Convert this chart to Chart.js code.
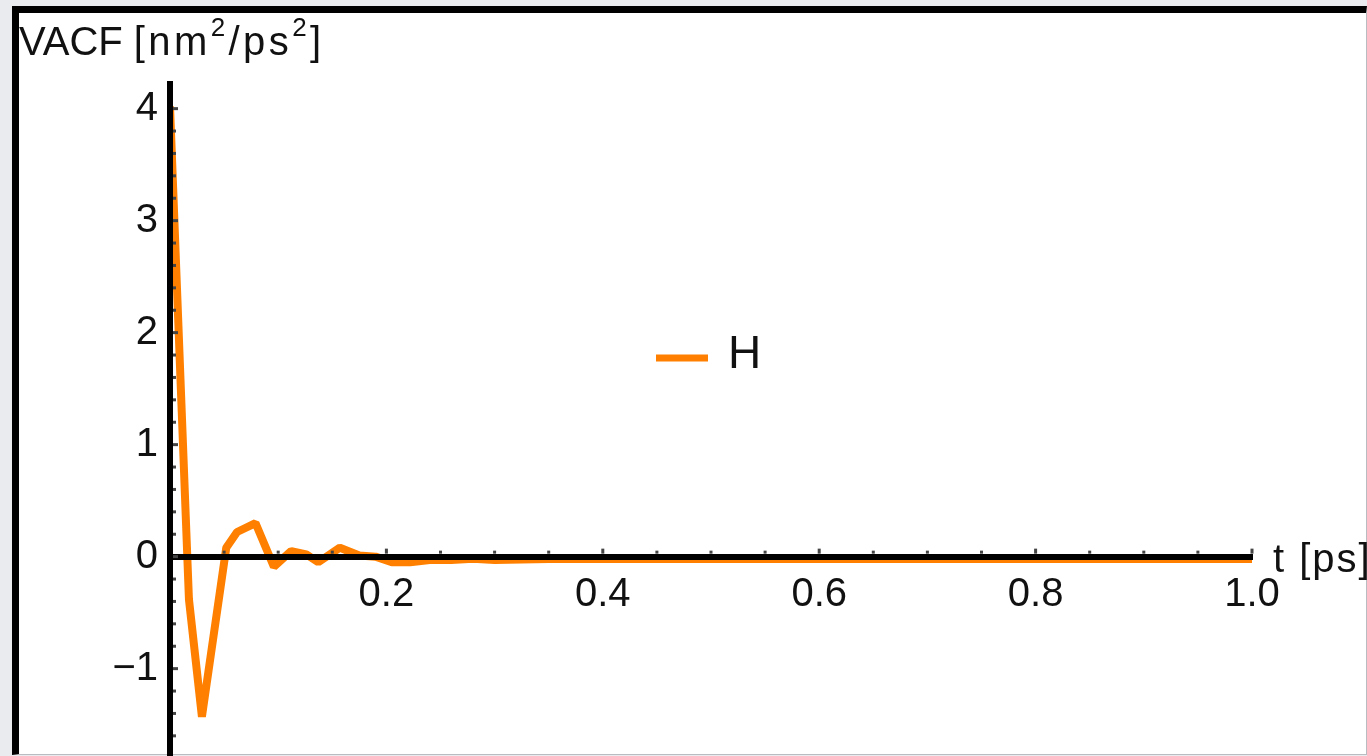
<!DOCTYPE html>
<html><head><meta charset="utf-8">
<script src="https://cdn.jsdelivr.net/npm/chart.js@4.4.1/dist/chart.umd.min.js"></script>
<style>
html,body{margin:0;padding:0;width:1367px;height:756px;overflow:hidden;background:#e9ebee;}
#frame{position:absolute;left:12px;top:6px;width:1347px;height:741px;background:#fff;border-left:7px solid #000;border-top:7px solid #000;border-right:1px solid #b9bcc0;border-bottom:1px solid #b9bcc0;}
#c{position:absolute;left:0;top:0;}
.lbl{position:absolute;font-family:'Liberation Sans',Arial,sans-serif;font-size:40px;line-height:40px;color:#111;white-space:nowrap;}
.lbl sup{font-size:26px;line-height:0;vertical-align:19px;}
.sp{letter-spacing:3.4px;}
.sp2{letter-spacing:2px;}
</style></head><body>
<div id="frame"></div>
<canvas id="c" width="1367" height="756"></canvas>
<div class="lbl" id="ytitle" style="left:19px;top:21px">VACF <span class="sp">[nm<sup>2</sup>/ps<sup>2</sup>]</span></div>
<div class="lbl sp2" id="xtitle" style="left:1273px;top:538px">t [ps]</div>
<script>
// ---- data ----
const tValues = [0, 0.0175, 0.0295, 0.052, 0.062, 0.079, 0.096, 0.112, 0.126, 0.137, 0.157, 0.175, 0.190, 0.205, 0.222, 0.24, 0.26, 0.28, 0.30, 0.35, 0.40, 0.45, 0.50, 0.55, 0.60, 0.65, 0.70, 0.75, 0.80, 0.85, 0.90, 0.95, 1.00];
const vacfH   = [4.02, -0.38, -1.43, 0.08, 0.22, 0.30, -0.09, 0.05, 0.02, -0.05, 0.08, 0.01, 0.00, -0.05, -0.05, -0.03, -0.03, -0.02, -0.03, -0.02, -0.02, -0.02, -0.02, -0.02, -0.02, -0.02, -0.02, -0.02, -0.02, -0.02, -0.02, -0.02, -0.02];
const seriesLabel = 'H';
const xTickValues = [0.2, 0.4, 0.6, 0.8, 1.0];
const yTickValues = [-1, 0, 1, 2, 3, 4];
const xMinorTicks = [0.05, 0.1, 0.15, 0.25, 0.3, 0.35, 0.45, 0.5, 0.55, 0.65, 0.7, 0.75, 0.85, 0.9, 0.95];
const yMinorTicks = [-1.6, -1.4, -1.2, -0.8, -0.6, -0.4, -0.2, 0.2, 0.4, 0.6, 0.8, 1.2, 1.4, 1.6, 1.8, 2.2, 2.4, 2.6, 2.8, 3.2, 3.4, 3.6, 3.8];

const FONT = 'Liberation Sans';

const decor = {
  id: 'decor',
  afterDraw(chart) {
    const {ctx, scales: {x, y}} = chart;
    const x0 = x.getPixelForValue(0), y0 = y.getPixelForValue(0);
    ctx.save();
    ctx.fillStyle = '#444';
    xMinorTicks.forEach(v => { const px = x.getPixelForValue(v); ctx.fillRect(px - 1.5, y0 - 6, 3, 3); });
    xTickValues.forEach(v => { const px = x.getPixelForValue(v); ctx.fillRect(px - 1.5, y0 - 8, 3, 5); });
    yMinorTicks.forEach(v => { const py = y.getPixelForValue(v); ctx.fillRect(x0 + 3, py - 1.5, 3, 3); });
    yTickValues.forEach(v => { const py = y.getPixelForValue(v); ctx.fillRect(x0 + 3, py - 1.5, 5, 3); });
    // legend
    const ds = chart.data.datasets[0];
    ctx.strokeStyle = ds.borderColor;
    ctx.lineWidth = 7;
    ctx.beginPath(); ctx.moveTo(656, 358); ctx.lineTo(708, 358); ctx.stroke();
    ctx.fillStyle = '#111';
    ctx.font = '46px "' + FONT + '"';
    ctx.textBaseline = 'alphabetic';
    ctx.fillText(ds.label, 728, 368);
    ctx.restore();
  }
};

new Chart(document.getElementById('c'), {
  type: 'line',
  data: {
    datasets: [{
      label: seriesLabel,
      data: tValues.map((t, i) => ({x: t, y: vacfH[i]})),
      borderColor: '#ff8000',
      borderWidth: 8,
      pointRadius: 0,
      fill: false,
      tension: 0,
      borderJoinStyle: 'bevel'
    }]
  },
  options: {
    responsive: false,
    animation: false,
    devicePixelRatio: 1,
    layout: {padding: {left: 20, right: 115, top: 84, bottom: 0}},
    plugins: {legend: {display: false}, tooltip: {enabled: false}},
    scales: {
      x: {
        type: 'linear', min: 0, max: 1, position: {y: 0}, z: 1,
        grid: {color: 'rgba(0,0,0,0)', drawTicks: false},
        border: {display: true, color: '#000', width: 6, z: 1},
        ticks: {z: 1, padding: 14, color: '#111', font: {family: FONT, size: 40}, maxRotation: 0, autoSkip: false,
                callback: v => Number(v).toFixed(1)},
        afterBuildTicks: s => { s.ticks = xTickValues.map(v => ({value: v})); },
        afterFit: s => { s.height = 0; s.paddingLeft = 0; s.paddingRight = 0; }
      },
      y: {
        type: 'linear', min: -1.78, max: 4.22, position: 'left', z: 1,
        grid: {color: 'rgba(0,0,0,0)', drawTicks: false},
        border: {display: true, color: '#000', width: 6, z: 1},
        ticks: {z: 1, padding: 12, color: '#111', font: {family: FONT, size: 40}, autoSkip: false,
                callback: v => v < 0 ? '\u2212' + Math.abs(v) : String(v)},
        afterBuildTicks: s => { s.ticks = yTickValues.map(v => ({value: v})); },
        afterFit: s => { s.width = 150; s.paddingTop = 0; s.paddingBottom = 0; }
      }
    }
  },
  plugins: [decor]
});
</script>
</body></html>
